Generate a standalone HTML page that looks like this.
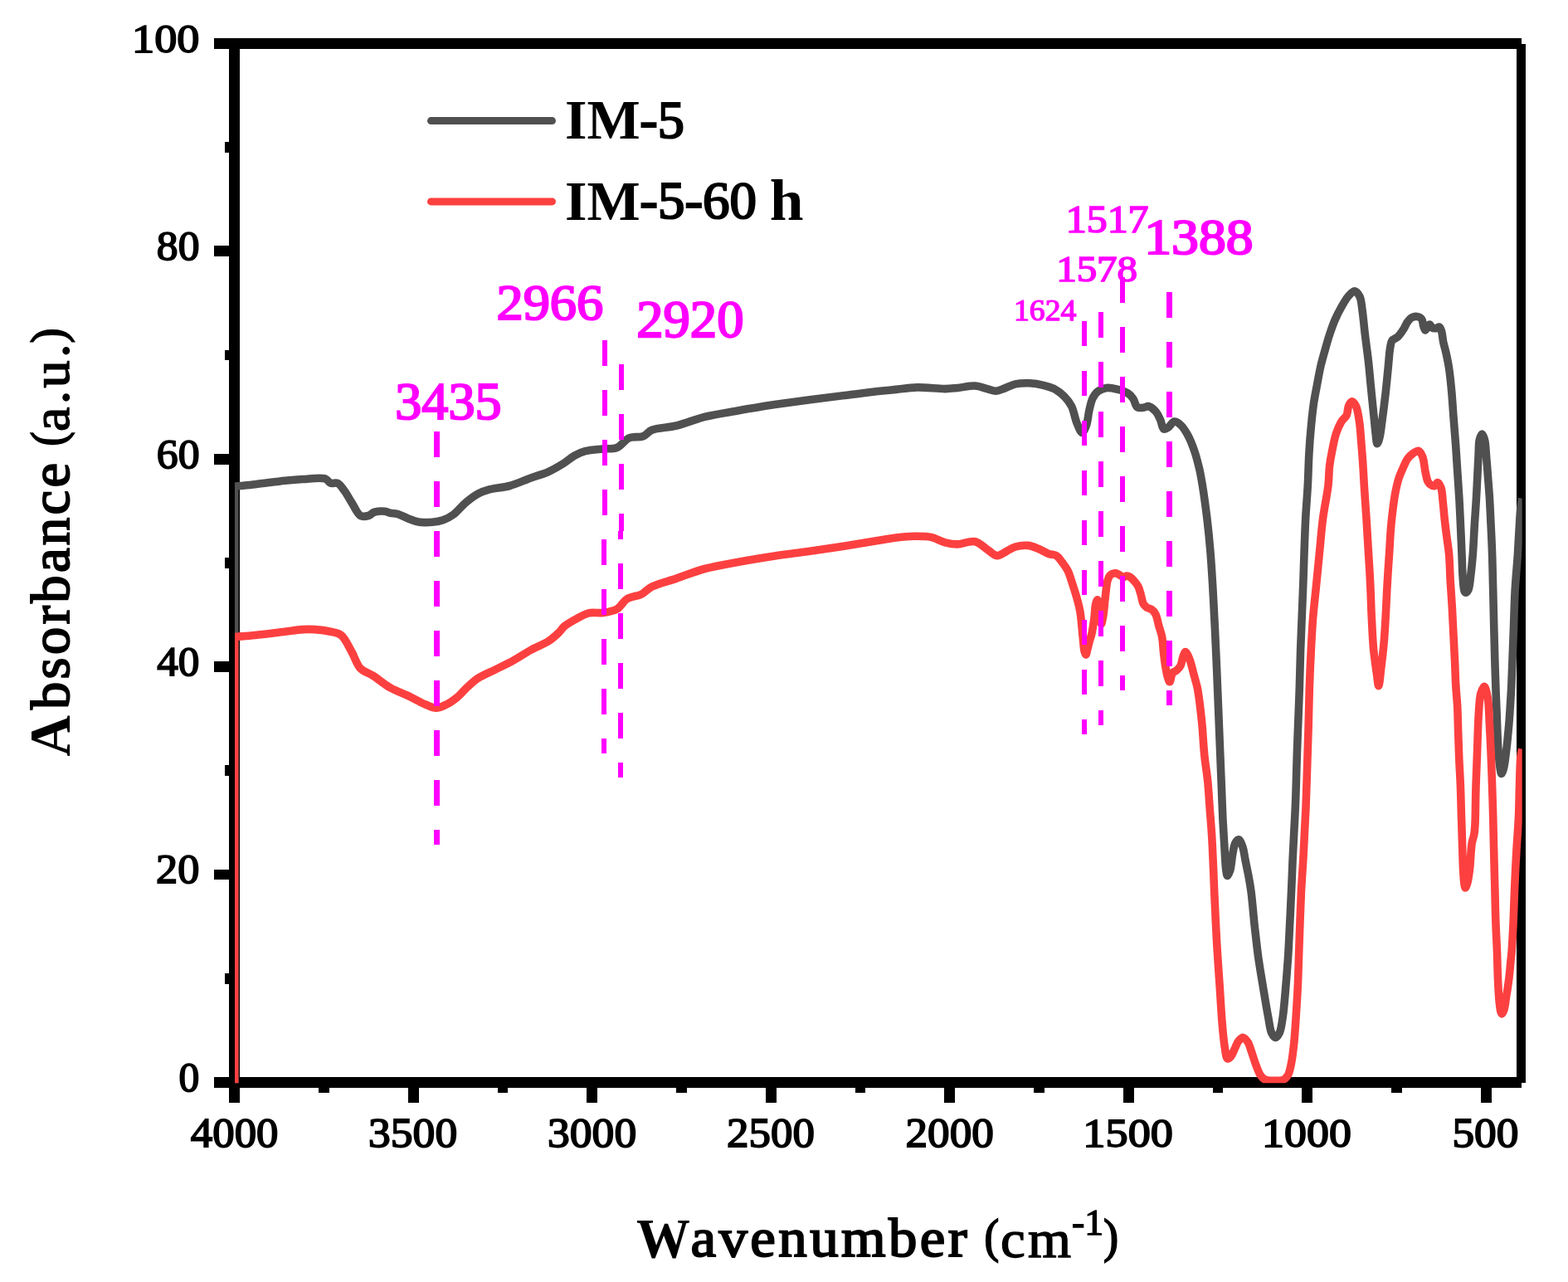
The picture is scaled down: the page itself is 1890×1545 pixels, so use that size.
<!DOCTYPE html>
<html lang="en"><head><meta charset="utf-8"><title>FTIR spectra</title>
<style>html,body{margin:0;padding:0;background:#fff}svg{display:block}</style>
</head><body>
<svg width="1890" height="1545" viewBox="0 0 1890 1545" font-family="'Liberation Serif','DejaVu Serif',serif" font-weight="bold">
<defs><clipPath id="plot"><rect x="283" y="53" width="1551.7" height="1252.2"/></clipPath></defs>
<rect width="1890" height="1545" fill="#fff"/>
<g shape-rendering="crispEdges"><rect x="258.00" y="46.00" width="1576.00" height="13.00" fill="#000"/><rect x="258.00" y="1298.00" width="1576.00" height="13.00" fill="#000"/><rect x="276.00" y="46.00" width="13.00" height="1283.00" fill="#000"/><rect x="1828.00" y="53.00" width="11.00" height="1252.00" fill="#000"/><rect x="258.00" y="1298.00" width="19.00" height="13.00" fill="#000"/><rect x="271.00" y="1173.00" width="6.00" height="13.00" fill="#000"/><rect x="258.00" y="1048.00" width="19.00" height="12.00" fill="#000"/><rect x="271.00" y="922.00" width="6.00" height="13.00" fill="#000"/><rect x="258.00" y="797.00" width="19.00" height="13.00" fill="#000"/><rect x="271.00" y="672.00" width="6.00" height="13.00" fill="#000"/><rect x="258.00" y="547.00" width="19.00" height="13.00" fill="#000"/><rect x="271.00" y="422.00" width="6.00" height="12.00" fill="#000"/><rect x="258.00" y="296.00" width="19.00" height="13.00" fill="#000"/><rect x="271.00" y="171.00" width="6.00" height="13.00" fill="#000"/><rect x="258.00" y="46.00" width="19.00" height="13.00" fill="#000"/><rect x="276.40" y="1305.00" width="12.60" height="24.00" fill="#000"/><rect x="384.16" y="1305.00" width="12.60" height="12.00" fill="#000"/><rect x="491.91" y="1305.00" width="12.60" height="24.00" fill="#000"/><rect x="599.67" y="1305.00" width="12.60" height="12.00" fill="#000"/><rect x="707.43" y="1305.00" width="12.60" height="24.00" fill="#000"/><rect x="815.19" y="1305.00" width="12.60" height="12.00" fill="#000"/><rect x="922.94" y="1305.00" width="12.60" height="24.00" fill="#000"/><rect x="1030.70" y="1305.00" width="12.60" height="12.00" fill="#000"/><rect x="1138.46" y="1305.00" width="12.60" height="24.00" fill="#000"/><rect x="1246.21" y="1305.00" width="12.60" height="12.00" fill="#000"/><rect x="1353.97" y="1305.00" width="12.60" height="24.00" fill="#000"/><rect x="1461.73" y="1305.00" width="12.60" height="12.00" fill="#000"/><rect x="1569.49" y="1305.00" width="12.60" height="24.00" fill="#000"/><rect x="1677.24" y="1305.00" width="12.60" height="12.00" fill="#000"/><rect x="1785.00" y="1305.00" width="12.60" height="24.00" fill="#000"/></g>
<g clip-path="url(#plot)" fill="none" stroke-width="9.6" stroke-linejoin="round" stroke-linecap="butt">
<path stroke="#505050" d="M282.7,1312 L282.7,586.1 L284.2,586.1 C292.0,585.3 298.9,584.8 307.5,583.8 C318.2,582.6 333.1,580.3 343.5,579.2 C351.5,578.4 357.2,577.9 364.7,577.5 C373.3,577.1 386.5,575.0 392.2,577.0 C395.3,578.1 396.1,581.4 398.5,582.3 C401.0,583.2 404.4,581.1 407.0,582.3 C410.2,583.7 412.7,588.3 415.4,591.9 C418.4,596.0 420.9,600.9 423.9,605.6 C427.2,610.7 430.4,619.3 434.5,621.5 C437.4,623.0 441.1,622.3 444.0,621.5 C446.7,620.8 448.5,618.1 451.4,617.2 C455.0,616.1 460.6,615.8 464.1,616.2 C466.6,616.5 468.2,617.8 470.5,618.3 C473.1,618.9 475.9,618.6 479.0,619.4 C482.9,620.4 487.4,623.1 491.6,624.7 C495.8,626.3 499.7,628.1 504.3,628.9 C509.5,629.8 516.1,629.7 521.3,629.3 C525.9,628.9 529.9,628.3 534.0,626.8 C538.4,625.2 542.5,623.1 546.7,620.0 C551.7,616.3 556.4,609.9 561.5,605.6 C566.3,601.6 571.4,597.6 576.3,595.0 C580.5,592.7 584.0,591.6 589.0,590.2 C595.9,588.3 606.0,587.8 614.4,585.5 C623.0,583.1 631.7,578.9 639.8,576.0 C647.2,573.3 654.3,571.6 661.0,568.6 C667.6,565.6 674.4,561.5 680.0,558.0 C684.7,555.0 688.3,551.4 692.7,549.0 C696.8,546.7 700.5,545.0 705.4,543.7 C711.5,542.1 719.9,541.7 726.6,541.0 C732.5,540.4 738.3,541.6 743.5,539.5 C749.0,537.3 752.9,530.1 758.3,527.8 C763.5,525.6 770.4,527.5 775.2,525.7 C779.4,524.1 781.1,520.2 785.8,518.3 C793.0,515.3 805.3,515.5 815.4,513.0 C826.4,510.3 837.3,505.4 849.3,502.4 C862.5,499.1 877.5,497.1 891.6,494.6 C905.7,492.1 919.9,489.8 934.0,487.6 C948.1,485.5 962.2,483.6 976.3,481.7 C990.4,479.8 1004.5,478.1 1018.6,476.4 C1032.7,474.7 1049.7,472.5 1061.0,471.3 C1068.6,470.5 1073.2,470.1 1080.0,469.4 C1087.9,468.6 1096.3,467.1 1105.4,466.9 C1115.9,466.6 1130.3,468.7 1139.3,468.6 C1145.2,468.5 1148.7,468.0 1154.1,467.5 C1160.5,466.9 1168.8,464.6 1175.2,465.0 C1180.6,465.3 1185.5,467.5 1190.0,468.6 C1193.8,469.6 1197.1,471.4 1200.6,471.3 C1204.1,471.2 1207.5,469.2 1211.2,467.9 C1215.3,466.4 1219.3,463.9 1223.9,462.9 C1229.0,461.7 1235.2,461.6 1240.8,461.8 C1246.5,462.0 1252.6,463.0 1257.8,464.3 C1262.4,465.4 1266.4,466.5 1270.5,468.6 C1274.9,470.9 1279.6,474.5 1283.2,478.1 C1286.6,481.5 1289.3,485.1 1291.6,489.7 C1294.4,495.3 1295.6,504.1 1298.0,509.8 C1299.9,514.3 1302.3,521.5 1304.3,521.5 C1306.1,521.5 1308.2,515.8 1309.6,512.0 C1311.3,507.3 1311.5,500.4 1312.8,495.0 C1314.0,489.9 1315.0,484.3 1317.0,480.2 C1318.7,476.8 1320.6,473.8 1323.4,471.7 C1326.3,469.5 1330.2,468.0 1334.0,467.5 C1338.0,467.0 1342.5,468.2 1346.7,469.2 C1351.0,470.3 1356.1,471.8 1359.4,473.9 C1362.1,475.6 1363.9,477.7 1365.7,480.2 C1367.8,483.1 1368.5,489.1 1371.0,490.8 C1373.0,492.1 1376.0,491.4 1378.4,491.2 C1380.6,491.0 1382.6,489.2 1384.8,489.7 C1387.5,490.3 1390.9,493.5 1393.2,496.1 C1395.5,498.8 1396.9,502.2 1398.5,505.6 C1400.2,509.2 1400.7,516.3 1402.8,517.2 C1404.2,517.8 1406.2,516.2 1408.0,515.1 C1410.4,513.6 1412.8,508.5 1415.4,508.1 C1417.8,507.8 1420.6,510.0 1422.9,512.0 C1426.0,514.6 1428.7,519.0 1431.3,523.6 C1434.5,529.2 1437.4,536.7 1439.8,543.7 C1442.4,551.1 1444.4,559.7 1446.1,567.0 C1447.5,573.4 1448.2,577.8 1449.4,585.0 C1451.1,595.6 1453.3,611.5 1454.9,624.7 C1456.5,637.9 1457.8,651.2 1458.9,664.4 C1460.0,677.6 1460.8,690.8 1461.6,704.0 C1462.4,717.2 1463.0,730.5 1463.7,743.7 C1464.4,756.9 1465.0,769.6 1465.6,783.4 C1466.3,798.3 1467.0,815.1 1467.6,830.0 C1468.2,843.8 1468.7,856.5 1469.2,869.7 C1469.7,882.9 1470.3,896.2 1470.8,909.4 C1471.3,922.6 1471.9,935.8 1472.4,949.0 C1472.9,962.2 1473.4,976.2 1474.0,988.7 C1474.6,999.9 1475.2,1010.2 1475.9,1020.5 C1476.5,1030.3 1476.9,1042.9 1477.9,1049.0 C1478.4,1051.9 1478.7,1055.3 1479.5,1055.4 C1480.3,1055.5 1481.8,1051.8 1482.7,1049.0 C1484.2,1044.2 1484.7,1034.4 1485.9,1028.4 C1486.8,1023.6 1487.4,1018.6 1489.0,1015.7 C1490.1,1013.8 1491.7,1011.5 1493.0,1011.7 C1494.7,1011.9 1496.5,1017.0 1497.8,1020.5 C1499.4,1024.9 1499.9,1030.8 1501.0,1036.3 C1502.2,1042.4 1503.7,1049.0 1504.9,1055.4 C1506.1,1061.9 1507.1,1067.3 1508.1,1075.0 C1509.5,1085.9 1510.7,1101.5 1512.1,1114.7 C1513.6,1127.9 1515.0,1141.2 1516.8,1154.4 C1518.7,1167.6 1521.1,1181.5 1523.2,1194.0 C1525.1,1205.2 1526.9,1216.6 1528.7,1225.8 C1530.1,1233.0 1530.6,1240.5 1532.7,1244.8 C1534.0,1247.4 1535.9,1250.4 1537.5,1250.4 C1539.1,1250.4 1540.9,1247.4 1542.2,1244.8 C1544.3,1240.5 1545.1,1233.0 1546.2,1225.8 C1547.6,1216.6 1548.4,1205.2 1549.4,1194.0 C1550.5,1181.5 1551.6,1167.6 1552.5,1154.4 C1553.4,1141.2 1553.9,1127.9 1554.6,1114.7 C1555.3,1101.5 1555.9,1088.1 1556.5,1075.0 C1557.1,1062.0 1557.5,1048.6 1558.1,1036.3 C1558.6,1025.2 1559.2,1015.2 1559.7,1004.6 C1560.2,994.0 1560.9,983.5 1561.3,972.9 C1561.8,962.3 1562.1,951.7 1562.4,941.1 C1562.7,930.5 1562.9,920.6 1563.3,909.4 C1563.7,896.9 1564.3,882.9 1564.8,869.7 C1565.3,856.5 1565.8,843.8 1566.3,830.0 C1566.8,815.1 1567.1,798.3 1567.6,783.4 C1568.1,769.6 1568.7,756.9 1569.2,743.7 C1569.7,730.5 1570.3,717.2 1570.8,704.0 C1571.3,690.8 1571.6,677.6 1572.1,664.4 C1572.6,651.2 1573.0,637.9 1573.7,624.7 C1574.4,611.5 1575.6,598.2 1576.3,585.0 C1577.0,572.0 1577.2,558.6 1577.9,546.3 C1578.5,535.2 1579.3,524.9 1580.3,514.6 C1581.2,504.8 1582.2,494.9 1583.5,486.0 C1584.7,478.1 1586.1,471.3 1587.5,463.8 C1589.0,456.0 1590.4,447.6 1592.2,440.0 C1593.9,432.9 1596.0,425.8 1597.8,419.4 C1599.4,413.7 1600.7,408.9 1602.5,403.5 C1604.4,397.8 1606.5,391.6 1608.9,386.0 C1611.3,380.5 1614.0,375.1 1616.8,370.2 C1619.4,365.7 1621.9,360.9 1624.8,357.5 C1627.2,354.7 1630.3,350.7 1632.7,350.8 C1635.0,350.9 1637.5,354.5 1639.0,357.5 C1641.1,361.7 1641.2,368.4 1642.2,374.9 C1643.4,383.2 1644.2,393.7 1645.4,403.5 C1646.6,413.8 1648.2,424.6 1649.4,435.2 C1650.6,445.8 1651.4,456.4 1652.5,467.0 C1653.5,477.6 1654.7,488.9 1655.7,498.7 C1656.6,507.2 1657.3,515.9 1658.1,522.5 C1658.7,527.2 1659.0,534.5 1660.0,534.6 C1660.8,534.7 1662.1,530.4 1662.9,527.3 C1664.3,522.2 1664.9,514.3 1666.0,506.7 C1667.3,497.3 1668.8,485.5 1670.0,474.9 C1671.2,464.3 1672.2,453.0 1673.2,443.2 C1674.1,434.7 1674.5,425.4 1675.6,419.4 C1676.3,415.7 1676.3,412.8 1677.9,410.5 C1679.5,408.3 1682.8,407.8 1685.0,405.8 C1687.4,403.5 1689.5,400.3 1691.4,397.3 C1693.4,394.3 1694.7,390.4 1696.7,387.8 C1698.3,385.6 1699.9,383.5 1702.0,382.5 C1704.0,381.5 1706.9,381.2 1708.9,381.6 C1710.7,382.0 1712.6,383.0 1713.7,384.6 C1715.1,386.6 1715.0,390.7 1715.8,393.1 C1716.4,395.0 1717.1,397.8 1717.9,397.9 C1718.7,398.0 1719.7,395.3 1720.6,394.1 C1721.5,393.0 1722.3,391.0 1723.2,391.0 C1724.2,391.0 1725.1,394.4 1726.4,395.2 C1727.6,395.9 1729.3,395.9 1730.7,395.7 C1732.1,395.5 1733.8,393.7 1734.9,394.1 C1736.2,394.6 1736.9,397.2 1737.6,399.4 C1738.7,402.7 1738.8,408.0 1739.7,412.2 C1740.6,416.5 1741.9,420.4 1742.9,424.9 C1744.0,429.9 1745.2,435.5 1746.1,440.8 C1747.0,446.1 1747.6,451.5 1748.2,456.8 C1748.8,462.1 1749.3,467.4 1749.8,472.7 C1750.3,478.0 1750.6,483.3 1751.0,488.6 C1751.4,493.8 1751.6,497.9 1752.1,504.0 C1752.8,512.7 1753.8,525.2 1754.6,535.8 C1755.4,546.4 1756.0,557.1 1756.7,567.7 C1757.4,578.3 1758.2,588.9 1758.8,599.5 C1759.4,610.1 1759.9,620.4 1760.4,631.4 C1761.0,643.2 1761.5,656.8 1762.0,668.0 C1762.4,677.5 1762.5,686.5 1763.1,694.5 C1763.6,701.1 1763.9,709.9 1765.2,712.6 C1765.7,713.5 1766.2,714.2 1766.8,714.2 C1767.7,714.2 1769.1,712.3 1770.0,710.5 C1771.6,707.2 1771.8,700.5 1772.6,694.5 C1773.6,686.8 1774.5,677.6 1775.3,668.0 C1776.2,656.8 1776.7,643.2 1777.4,631.4 C1778.1,620.4 1778.9,610.1 1779.5,599.5 C1780.1,588.9 1780.6,577.2 1781.1,567.7 C1781.5,559.9 1781.8,553.1 1782.2,546.5 C1782.5,540.8 1782.2,534.8 1783.2,530.5 C1783.9,527.5 1785.3,523.0 1786.4,523.0 C1787.5,523.0 1788.8,527.3 1789.6,530.5 C1790.9,535.7 1791.0,544.3 1791.7,551.8 C1792.4,560.1 1793.2,570.0 1793.8,578.3 C1794.4,585.8 1794.9,591.7 1795.4,599.5 C1796.0,609.0 1796.5,620.4 1797.0,631.4 C1797.6,643.2 1798.2,655.3 1798.6,668.0 C1799.1,681.6 1799.3,696.3 1799.7,710.5 C1800.0,724.6 1800.4,738.8 1800.7,752.9 C1801.1,767.1 1801.4,781.8 1801.8,795.4 C1802.2,808.1 1802.6,820.4 1803.0,832.0 C1803.4,842.6 1803.8,851.5 1804.2,862.5 C1804.7,875.5 1805.1,893.2 1806.0,904.9 C1806.6,913.2 1807.3,921.2 1808.2,926.2 C1808.7,928.9 1809.1,932.5 1809.8,932.5 C1810.5,932.6 1811.6,929.0 1812.4,926.2 C1813.8,921.3 1814.6,912.7 1815.6,904.9 C1816.8,895.4 1817.9,883.2 1818.8,873.1 C1819.6,863.8 1820.1,854.8 1820.6,846.5 C1821.1,839.2 1821.4,833.5 1821.8,826.0 C1822.2,816.8 1822.6,806.4 1823.0,795.4 C1823.5,782.4 1824.1,767.1 1824.6,752.9 C1825.1,738.8 1825.4,724.6 1826.2,710.5 C1827.0,696.3 1828.5,681.6 1829.4,668.0 C1830.2,655.3 1830.8,641.9 1831.5,631.4 C1832.0,623.4 1832.4,615.9 1833.1,610.2 C1833.6,606.4 1834.2,603.8 1834.7,600.6"/>
<path stroke="#FC4040" d="M282.7,1312 L282.7,767.5 L284.2,767.5 C292.0,766.8 298.9,766.3 307.5,765.4 C318.2,764.3 333.1,762.4 343.5,761.2 C351.5,760.2 358.3,759.0 364.7,758.6 C370.1,758.3 374.3,758.2 379.5,758.6 C385.5,759.0 392.9,759.9 398.5,761.2 C403.2,762.3 407.4,762.4 411.2,765.4 C416.2,769.3 420.0,778.7 423.9,785.5 C427.7,792.1 429.8,800.7 434.5,805.6 C438.6,809.8 444.0,810.7 449.3,814.1 C455.8,818.2 463.2,824.8 470.5,828.9 C477.4,832.8 484.6,835.1 491.6,838.4 C498.7,841.8 506.6,846.4 512.8,849.0 C517.5,850.9 521.3,853.2 525.5,853.2 C529.7,853.2 534.1,851.0 538.2,849.0 C542.6,846.9 546.8,843.8 550.9,840.5 C555.3,836.9 559.3,831.8 563.6,827.8 C567.7,824.0 571.3,820.5 576.3,817.2 C582.3,813.3 590.4,810.2 597.5,806.7 C604.5,803.2 611.6,799.9 618.6,796.1 C625.7,792.2 632.7,787.3 639.8,783.4 C646.8,779.6 655.0,776.7 661.0,772.8 C666.0,769.5 670.3,765.5 673.7,762.2 C676.3,759.7 677.3,757.3 680.0,755.0 C683.3,752.1 688.1,749.5 692.7,746.9 C697.9,744.0 703.8,740.2 709.6,738.8 C715.1,737.5 721.0,739.2 726.6,738.4 C732.3,737.6 738.6,737.0 743.5,734.2 C748.5,731.4 751.2,724.5 756.2,721.5 C761.1,718.5 768.0,718.7 773.1,716.2 C777.8,713.8 780.4,709.9 785.8,707.1 C793.4,703.2 805.2,700.6 815.4,697.1 C826.3,693.4 837.3,688.8 849.3,685.5 C862.5,681.9 877.5,679.6 891.6,677.0 C905.7,674.4 919.9,672.1 934.0,670.0 C948.1,667.9 962.2,666.3 976.3,664.3 C990.4,662.3 1004.5,660.2 1018.6,658.0 C1032.7,655.8 1049.7,652.8 1061.0,651.0 C1068.6,649.8 1073.5,648.8 1080.0,648.0 C1086.9,647.2 1094.1,646.4 1101.2,646.3 C1108.2,646.2 1115.7,646.0 1122.3,647.4 C1128.4,648.7 1133.8,652.4 1139.3,653.8 C1144.3,655.1 1148.7,655.9 1154.1,655.9 C1160.5,655.9 1169.0,651.4 1175.2,652.7 C1180.8,653.9 1185.4,659.2 1190.0,662.2 C1194.1,664.8 1197.7,669.3 1201.7,669.6 C1205.5,669.9 1209.5,666.1 1213.3,664.3 C1216.9,662.6 1220.0,660.2 1223.9,659.0 C1228.3,657.7 1234.0,657.0 1238.7,657.4 C1243.1,657.8 1247.2,659.6 1251.4,661.2 C1255.7,662.9 1260.1,666.1 1264.1,667.5 C1267.3,668.7 1270.5,668.0 1273.2,669.6 C1276.1,671.3 1278.3,675.0 1280.6,678.0 C1282.9,681.0 1285.2,683.9 1287.0,687.6 C1289.2,691.9 1290.6,697.4 1292.3,702.5 C1294.1,707.9 1296.0,713.7 1297.6,719.4 C1299.2,725.0 1300.6,729.8 1301.8,736.4 C1303.4,745.3 1304.2,759.0 1305.2,768.0 C1305.9,774.6 1306.2,781.7 1307.2,785.3 C1307.7,787.1 1308.4,789.1 1308.9,789.1 C1309.6,789.0 1310.2,784.6 1310.9,782.0 C1311.7,779.0 1312.6,775.1 1313.5,772.0 C1314.2,769.4 1315.0,767.7 1315.7,764.7 C1316.8,759.8 1318.0,751.7 1318.9,745.3 C1319.7,739.1 1319.8,730.9 1320.9,727.0 C1321.4,725.1 1322.2,722.8 1322.8,722.9 C1323.8,723.0 1324.6,730.6 1325.3,735.0 C1326.2,740.2 1326.5,751.9 1327.4,752.0 C1328.0,752.0 1328.8,747.3 1329.3,745.0 C1329.8,742.9 1330.0,741.4 1330.3,738.8 C1330.9,734.1 1331.5,725.9 1332.3,719.4 C1333.1,712.9 1333.6,704.6 1334.9,700.0 C1335.6,697.4 1336.4,695.4 1337.5,694.0 C1338.3,693.0 1339.1,692.3 1340.1,691.8 C1341.3,691.2 1342.8,690.7 1344.3,690.8 C1346.0,690.9 1348.0,692.1 1349.6,692.9 C1351.1,693.7 1352.4,695.5 1353.9,695.6 C1355.3,695.7 1356.7,694.0 1358.1,694.0 C1359.5,694.0 1361.0,694.7 1362.4,695.6 C1364.2,696.8 1366.1,699.0 1367.7,700.9 C1369.3,702.7 1370.7,704.4 1371.9,706.7 C1373.3,709.4 1374.1,712.9 1375.1,716.3 C1376.2,720.0 1376.7,725.1 1378.3,727.9 C1379.4,729.9 1380.9,731.1 1382.5,732.2 C1384.1,733.2 1386.2,733.1 1387.8,734.3 C1389.7,735.6 1391.5,737.6 1392.9,740.2 C1394.8,743.7 1395.4,749.3 1396.7,753.8 C1398.0,758.3 1399.6,762.4 1400.6,767.4 C1401.7,773.2 1401.9,780.8 1402.6,786.8 C1403.2,792.0 1403.7,796.6 1404.5,801.4 C1405.3,806.3 1406.3,812.2 1407.4,815.9 C1408.2,818.3 1409.1,821.8 1409.9,821.8 C1410.7,821.8 1411.3,817.0 1412.0,815.0 C1412.5,813.3 1412.5,811.7 1413.5,810.5 C1414.5,809.3 1416.6,809.2 1418.1,808.0 C1419.8,806.6 1421.7,804.7 1423.0,802.3 C1424.5,799.4 1424.8,794.7 1425.9,791.7 C1426.8,789.3 1427.7,785.6 1428.8,785.5 C1429.6,785.4 1430.7,787.5 1431.5,789.0 C1432.6,791.0 1433.6,793.6 1434.6,796.5 C1436.0,800.5 1437.3,806.5 1438.5,811.0 C1439.6,814.9 1440.6,818.6 1441.5,822.0 C1442.3,824.9 1442.8,826.3 1443.5,830.0 C1445.0,838.2 1447.2,856.4 1448.6,869.7 C1450.0,882.9 1450.4,896.9 1451.7,909.4 C1452.8,920.6 1454.6,930.5 1455.7,941.1 C1456.8,951.7 1457.3,962.3 1458.1,972.9 C1458.9,983.5 1459.8,994.0 1460.5,1004.6 C1461.2,1015.2 1461.6,1025.2 1462.1,1036.3 C1462.7,1048.6 1463.0,1060.5 1463.7,1075.0 C1464.5,1093.6 1465.7,1118.9 1466.8,1138.5 C1467.8,1155.5 1468.9,1170.2 1470.0,1186.1 C1471.1,1202.0 1472.0,1219.9 1473.2,1233.7 C1474.1,1244.5 1475.0,1254.6 1476.3,1262.3 C1477.2,1267.7 1477.7,1275.0 1479.5,1275.8 C1480.6,1276.3 1482.3,1274.7 1483.5,1273.4 C1485.3,1271.4 1486.7,1267.1 1488.3,1263.9 C1489.9,1260.7 1491.0,1256.7 1493.0,1254.4 C1494.6,1252.5 1496.8,1250.2 1498.6,1250.4 C1500.5,1250.6 1502.5,1253.5 1504.1,1256.0 C1506.2,1259.2 1507.3,1264.3 1508.9,1268.7 C1510.5,1273.3 1511.9,1278.3 1513.7,1282.9 C1515.4,1287.3 1517.0,1292.4 1519.2,1295.6 C1520.9,1298.0 1522.3,1300.0 1524.8,1301.2 C1528.0,1302.7 1533.6,1302.4 1537.5,1302.3 C1540.9,1302.3 1544.4,1302.5 1547.0,1301.2 C1549.3,1300.1 1551.0,1298.1 1552.5,1295.6 C1554.5,1292.1 1555.4,1286.7 1556.5,1281.3 C1557.9,1274.4 1558.8,1266.0 1559.7,1257.5 C1560.7,1247.7 1561.4,1237.0 1562.1,1225.8 C1562.9,1213.3 1563.8,1199.9 1564.4,1186.1 C1565.1,1171.0 1565.4,1155.5 1566.0,1138.5 C1566.7,1118.9 1567.5,1093.6 1568.4,1075.0 C1569.1,1060.5 1570.1,1048.6 1570.8,1036.3 C1571.4,1025.2 1571.9,1015.2 1572.4,1004.6 C1572.9,994.0 1573.5,984.5 1574.0,972.9 C1574.6,958.6 1575.1,941.1 1575.6,925.2 C1576.1,909.3 1576.6,893.5 1577.1,877.6 C1577.5,861.7 1577.8,845.8 1578.3,830.0 C1578.8,814.4 1579.5,798.3 1580.3,783.4 C1581.0,769.6 1581.6,756.9 1582.7,743.7 C1583.8,730.5 1585.4,717.2 1586.7,704.0 C1588.0,690.8 1589.3,677.6 1590.6,664.4 C1591.9,651.2 1592.9,637.9 1594.6,624.7 C1596.3,611.4 1599.7,596.4 1601.0,585.0 C1602.0,576.4 1601.7,569.4 1602.5,562.2 C1603.3,555.6 1604.4,549.6 1605.7,543.2 C1607.1,536.4 1608.4,528.7 1610.5,522.5 C1612.3,517.2 1614.4,512.2 1616.8,508.3 C1618.7,505.1 1621.7,503.4 1623.2,500.3 C1624.7,497.1 1624.3,492.2 1625.6,489.2 C1626.6,486.9 1628.1,483.8 1629.5,483.7 C1631.0,483.6 1633.0,486.6 1634.3,489.2 C1636.4,493.2 1637.3,500.4 1638.3,506.7 C1639.5,514.0 1639.9,522.0 1640.6,530.5 C1641.4,540.3 1642.4,552.5 1643.0,562.2 C1643.5,570.4 1643.8,576.4 1644.3,585.0 C1645.0,596.4 1646.1,611.5 1647.0,624.7 C1647.8,637.9 1648.6,651.2 1649.4,664.4 C1650.2,677.6 1651.1,690.8 1651.7,704.0 C1652.4,717.2 1652.6,730.5 1653.3,743.7 C1654.0,756.9 1654.5,771.2 1655.7,783.4 C1656.7,794.0 1658.5,805.0 1659.6,813.0 C1660.4,818.4 1660.9,826.6 1661.7,826.6 C1662.7,826.6 1663.9,811.9 1664.9,804.0 C1666.0,795.2 1667.1,785.7 1668.0,776.0 C1668.9,765.5 1669.6,754.0 1670.2,743.0 C1670.8,732.1 1671.2,720.8 1671.8,710.5 C1672.3,701.2 1672.9,691.7 1673.4,684.0 C1673.8,678.0 1674.1,674.2 1674.5,668.0 C1675.1,659.3 1675.7,646.1 1676.5,636.7 C1677.2,628.9 1677.8,622.6 1678.7,615.5 C1679.6,608.4 1680.5,601.0 1681.8,594.2 C1683.0,587.9 1684.3,581.6 1686.1,576.2 C1687.6,571.5 1689.6,567.4 1691.4,563.4 C1693.1,559.7 1694.6,555.7 1696.7,552.8 C1698.6,550.2 1700.8,548.1 1703.1,546.5 C1705.2,545.0 1708.1,542.8 1710.0,543.3 C1712.1,543.9 1713.6,547.6 1714.8,550.7 C1716.5,555.1 1716.8,562.5 1717.9,567.7 C1718.9,572.3 1719.6,577.5 1721.1,580.4 C1722.0,582.1 1723.0,583.2 1724.3,584.1 C1725.6,585.0 1727.7,586.1 1729.1,585.7 C1730.6,585.3 1731.6,581.4 1732.8,581.5 C1734.2,581.6 1736.0,585.1 1737.0,587.9 C1738.5,592.1 1738.5,598.8 1739.2,604.8 C1740.0,611.5 1740.5,619.0 1741.3,626.1 C1742.1,633.2 1743.0,640.3 1743.9,647.3 C1744.8,654.2 1745.9,660.3 1746.6,668.0 C1747.5,677.5 1747.6,689.2 1748.2,699.8 C1748.8,710.4 1749.7,721.1 1750.3,731.7 C1750.9,742.3 1751.4,752.9 1751.9,763.5 C1752.4,774.1 1753.0,784.9 1753.5,795.4 C1754.0,805.7 1754.2,816.2 1754.8,826.0 C1755.3,835.0 1756.2,842.7 1756.7,851.8 C1757.2,861.9 1757.3,873.1 1757.7,883.7 C1758.0,894.3 1758.4,904.9 1758.8,915.5 C1759.3,926.1 1760.0,936.4 1760.4,947.4 C1760.9,959.2 1761.1,972.2 1761.5,984.0 C1761.8,995.0 1762.2,1005.2 1762.5,1015.8 C1762.9,1026.4 1763.1,1038.4 1763.6,1047.7 C1764.0,1054.9 1764.5,1063.1 1765.2,1066.8 C1765.5,1068.3 1765.7,1070.0 1766.2,1070.0 C1766.9,1070.0 1768.1,1066.3 1768.9,1063.6 C1770.1,1059.5 1770.8,1053.4 1771.5,1047.7 C1772.3,1041.2 1772.6,1032.4 1773.1,1026.5 C1773.5,1022.3 1773.6,1019.3 1774.2,1015.8 C1774.8,1012.2 1776.3,1008.8 1776.9,1005.2 C1777.5,1001.7 1777.7,998.1 1777.9,994.6 C1778.1,991.1 1778.2,988.6 1778.3,984.0 C1778.5,975.5 1778.6,960.1 1779.0,947.4 C1779.4,933.8 1780.1,919.1 1780.6,904.9 C1781.1,890.8 1781.4,875.0 1782.2,862.5 C1782.9,852.6 1783.0,842.2 1784.8,835.9 C1785.9,832.1 1787.8,827.3 1789.1,827.4 C1790.7,827.5 1792.3,835.6 1793.3,841.2 C1794.8,849.6 1794.8,862.5 1795.4,873.1 C1796.0,883.7 1796.5,893.5 1797.0,904.9 C1797.6,918.0 1798.1,933.8 1798.6,947.4 C1799.0,960.1 1799.4,971.3 1799.7,984.0 C1800.1,997.6 1800.3,1012.3 1800.7,1026.5 C1801.0,1040.6 1801.4,1054.8 1801.8,1068.9 C1802.2,1083.1 1802.4,1097.8 1802.9,1111.4 C1803.3,1124.1 1804.1,1136.2 1804.5,1148.0 C1804.9,1159.0 1805.0,1169.7 1805.5,1179.8 C1805.9,1189.1 1806.3,1199.0 1807.1,1206.4 C1807.7,1211.8 1808.2,1217.9 1809.2,1220.2 C1809.6,1221.1 1810.0,1221.9 1810.5,1221.8 C1811.2,1221.7 1812.2,1219.1 1812.9,1217.0 C1814.1,1213.3 1814.7,1206.8 1815.6,1201.1 C1816.7,1194.5 1817.9,1186.9 1818.8,1179.8 C1819.7,1172.7 1820.3,1164.5 1820.9,1158.6 C1821.3,1154.5 1821.6,1152.6 1822.0,1148.0 C1822.7,1139.5 1823.5,1124.1 1824.1,1111.4 C1824.7,1097.8 1825.1,1083.1 1825.7,1068.9 C1826.3,1054.8 1827.0,1040.6 1827.8,1026.5 C1828.6,1012.3 1829.9,997.6 1830.5,984.0 C1831.1,971.3 1831.1,959.6 1831.5,947.4 C1831.9,935.0 1832.1,917.8 1833.1,910.2 C1833.5,906.8 1834.2,905.3 1834.7,902.8"/>
</g>
<g stroke="#FF00FF" stroke-dasharray="30.8 29.2" shape-rendering="crispEdges"><line x1="526.5" y1="520.2" x2="526.1" y2="1018.2" stroke-width="7"/><line x1="729.0" y1="410.0" x2="727.9" y2="908.0" stroke-width="6"/><line x1="748.8" y1="439.2" x2="748.1" y2="937.2" stroke-width="6"/><line x1="1306.9" y1="386.5" x2="1306.9" y2="884.5" stroke-width="6"/><line x1="1327.0" y1="376.2" x2="1327.0" y2="874.2" stroke-width="6"/><line x1="1353.0" y1="334.0" x2="1353.0" y2="832.0" stroke-width="6"/><line x1="1409.6" y1="352.3" x2="1409.6" y2="850.3" stroke-width="7"/></g>
<g stroke-width="9" stroke-linecap="round">
<line x1="519.5" y1="145.6" x2="665.5" y2="145.6" stroke="#505050"/>
<line x1="519.5" y1="242.9" x2="665.5" y2="242.9" stroke="#FC4040"/>
</g>
<g stroke-linejoin="miter" stroke-miterlimit="3">
<text fill="#000"><tspan x="159.09" y="62.75" font-size="48.90" font-weight="normal" textLength="81.41" lengthAdjust="spacingAndGlyphs" stroke="#000" stroke-width="1.75">100</tspan></text>
<text fill="#000"><tspan x="188.85" y="313.13" font-size="49.63" font-weight="normal" textLength="51.61" lengthAdjust="spacingAndGlyphs" stroke="#000" stroke-width="1.75">80</tspan></text>
<text fill="#000"><tspan x="188.84" y="563.53" font-size="49.63" font-weight="normal" textLength="51.82" lengthAdjust="spacingAndGlyphs" stroke="#000" stroke-width="1.75">60</tspan></text>
<text fill="#000"><tspan x="189.18" y="813.93" font-size="49.63" font-weight="normal" textLength="51.27" lengthAdjust="spacingAndGlyphs" stroke="#000" stroke-width="1.75">40</tspan></text>
<text fill="#000"><tspan x="188.13" y="1064.33" font-size="49.63" font-weight="normal" textLength="52.34" lengthAdjust="spacingAndGlyphs" stroke="#000" stroke-width="1.75">20</tspan></text>
<text fill="#000"><tspan x="215.59" y="1314.73" font-size="49.63" font-weight="normal" textLength="24.82" lengthAdjust="spacingAndGlyphs" stroke="#000" stroke-width="1.75">0</tspan></text>
<text fill="#000"><tspan x="229.87" y="1381.72" font-size="50.05" font-weight="normal" textLength="105.61" lengthAdjust="spacingAndGlyphs" stroke="#000" stroke-width="1.76">4000</tspan></text>
<text fill="#000"><tspan x="443.96" y="1381.72" font-size="50.05" font-weight="normal" textLength="107.23" lengthAdjust="spacingAndGlyphs" stroke="#000" stroke-width="1.76">3500</tspan></text>
<text fill="#000"><tspan x="659.96" y="1381.72" font-size="50.05" font-weight="normal" textLength="107.23" lengthAdjust="spacingAndGlyphs" stroke="#000" stroke-width="1.76">3000</tspan></text>
<text fill="#000"><tspan x="876.12" y="1381.72" font-size="50.05" font-weight="normal" textLength="105.77" lengthAdjust="spacingAndGlyphs" stroke="#000" stroke-width="1.76">2500</tspan></text>
<text fill="#000"><tspan x="1091.51" y="1381.72" font-size="50.05" font-weight="normal" textLength="106.38" lengthAdjust="spacingAndGlyphs" stroke="#000" stroke-width="1.76">2000</tspan></text>
<text fill="#000"><tspan x="1305.39" y="1381.73" font-size="49.32" font-weight="normal" textLength="108.51" lengthAdjust="spacingAndGlyphs" stroke="#000" stroke-width="1.76">1500</tspan></text>
<text fill="#000"><tspan x="1521.11" y="1381.73" font-size="49.32" font-weight="normal" textLength="107.78" lengthAdjust="spacingAndGlyphs" stroke="#000" stroke-width="1.76">1000</tspan></text>
<text fill="#000"><tspan x="1750.44" y="1381.72" font-size="50.05" font-weight="normal" textLength="80.06" lengthAdjust="spacingAndGlyphs" stroke="#000" stroke-width="1.76">500</tspan></text>
<text fill="#FF00FF"><tspan x="476.21" y="505.17" font-size="63.05" font-weight="normal" textLength="128.35" lengthAdjust="spacingAndGlyphs" stroke="#FF00FF" stroke-width="2.19">3435</tspan></text>
<text fill="#FF00FF"><tspan x="598.46" y="384.56" font-size="62.10" font-weight="normal" textLength="128.84" lengthAdjust="spacingAndGlyphs" stroke="#FF00FF" stroke-width="2.19">2966</tspan></text>
<text fill="#FF00FF"><tspan x="767.15" y="406.40" font-size="63.81" font-weight="normal" textLength="129.39" lengthAdjust="spacingAndGlyphs" stroke="#FF00FF" stroke-width="2.25">2920</tspan></text>
<text fill="#FF00FF"><tspan x="1221.98" y="386.08" font-size="34.93" font-weight="normal" textLength="75.40" lengthAdjust="spacingAndGlyphs" stroke="#FF00FF" stroke-width="1.25">1624</tspan></text>
<text fill="#FF00FF"><tspan x="1273.17" y="338.98" font-size="45.26" font-weight="normal" textLength="97.91" lengthAdjust="spacingAndGlyphs" stroke="#FF00FF" stroke-width="1.62">1578</tspan></text>
<text fill="#FF00FF"><tspan x="1284.68" y="280.39" font-size="47.36" font-weight="normal" textLength="99.93" lengthAdjust="spacingAndGlyphs" stroke="#FF00FF" stroke-width="1.67">1517</tspan></text>
<text fill="#FF00FF"><tspan x="1379.26" y="306.01" font-size="60.49" font-weight="normal" textLength="131.49" lengthAdjust="spacingAndGlyphs" stroke="#FF00FF" stroke-width="2.17">1388</tspan></text>
<text fill="#000"><tspan x="680.96" y="167.20" font-size="68.31" font-weight="bold" textLength="90.69" lengthAdjust="spacingAndGlyphs">IM</tspan><tspan x="771.34" y="166.37" font-size="63.33" font-weight="normal" textLength="53.61" lengthAdjust="spacingAndGlyphs" stroke="#000" stroke-width="2.20">-5</tspan></text>
<text fill="#000"><tspan x="680.96" y="264.50" font-size="68.31" font-weight="bold" textLength="90.69" lengthAdjust="spacingAndGlyphs">IM</tspan><tspan x="771.35" y="262.80" font-size="63.66" font-weight="normal" textLength="140.55" lengthAdjust="spacingAndGlyphs" stroke="#000" stroke-width="2.24">-5-60</tspan> <tspan x="927.83" y="264.50" font-size="68.99" font-weight="bold" textLength="40.76" lengthAdjust="spacingAndGlyphs">h</tspan></text>
<text fill="#000"><tspan x="766.95" y="1514.86" font-size="67.16" font-weight="bold" textLength="64.95" lengthAdjust="spacingAndGlyphs">W</tspan><tspan x="832.41" y="1514.34" font-size="65.25" font-weight="normal" letter-spacing="3.26" textLength="336.82" lengthAdjust="spacingAndGlyphs" stroke="#000" stroke-width="2.02">avenumber</tspan> <tspan x="1186.62" y="1508.86" font-size="57.75" font-weight="normal" textLength="17.50" lengthAdjust="spacingAndGlyphs" stroke="#000" stroke-width="2.02">(</tspan><tspan x="1206.08" y="1514.67" font-size="62.47" font-weight="normal" letter-spacing="3.12" textLength="88.39" lengthAdjust="spacingAndGlyphs" stroke="#000" stroke-width="1.41">cm</tspan><tspan x="1292.08" y="1488.32" font-size="43.84" font-weight="normal" textLength="38.20" lengthAdjust="spacingAndGlyphs" stroke="#000" stroke-width="1.36">-1</tspan><tspan x="1330.34" y="1508.86" font-size="57.75" font-weight="normal" textLength="17.73" lengthAdjust="spacingAndGlyphs" stroke="#000" stroke-width="2.02">)</tspan></text>
<text transform="translate(83.8 911.1) rotate(-90)" fill="#000"><tspan x="-0.69" y="0.00" font-size="69.38" font-weight="bold" textLength="49.83" lengthAdjust="spacingAndGlyphs">A</tspan><tspan x="56.02" y="-1.07" font-size="66.25" font-weight="normal" letter-spacing="3.31" textLength="300.55" lengthAdjust="spacingAndGlyphs" stroke="#000" stroke-width="2.02">bsorbance</tspan> <tspan x="373.55" y="-7.19" font-size="57.53" font-weight="normal" textLength="17.04" lengthAdjust="spacingAndGlyphs" stroke="#000" stroke-width="2.02">(</tspan><tspan x="391.00" y="-0.77" font-size="64.06" font-weight="normal" letter-spacing="3.20" textLength="109.11" lengthAdjust="spacingAndGlyphs" stroke="#000" stroke-width="1.45">a.u.</tspan><tspan x="497.74" y="-7.19" font-size="57.53" font-weight="normal" textLength="17.60" lengthAdjust="spacingAndGlyphs" stroke="#000" stroke-width="2.02">)</tspan></text>
</g>
</svg>
</body></html>
